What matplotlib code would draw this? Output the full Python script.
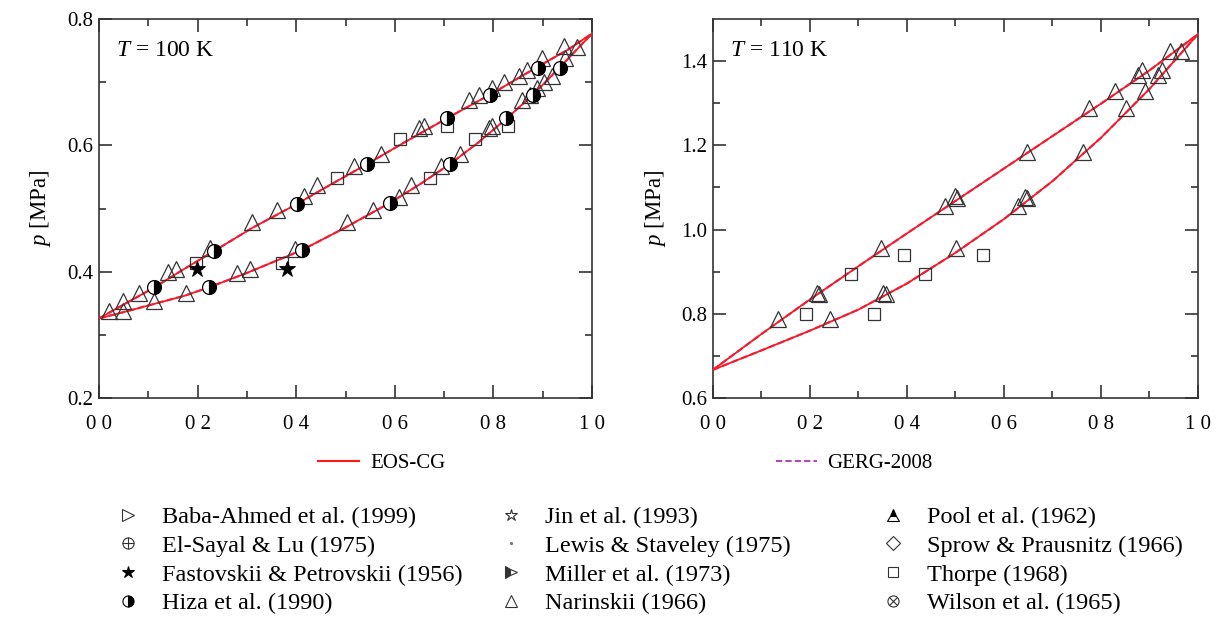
import matplotlib
matplotlib.use("Agg")
import matplotlib.pyplot as plt
from matplotlib.lines import Line2D
from matplotlib.legend_handler import HandlerTuple

plt.rcParams['font.family'] = ['Liberation Serif', 'DejaVu Serif']
plt.rcParams['mathtext.fontset'] = 'custom'
plt.rcParams['mathtext.rm'] = 'Liberation Serif'
plt.rcParams['mathtext.it'] = 'Liberation Serif:italic'
plt.rcParams['font.size'] = 15

# ---- T = 100 K (left) ----
x100_liq = [0.0, 0.05, 0.112, 0.17, 0.234, 0.31, 0.401, 0.47, 0.543, 0.62, 0.706, 0.797, 0.891, 0.95, 1.0]
p100_liq = [0.326, 0.348, 0.375, 0.403, 0.433, 0.469, 0.507, 0.538, 0.570, 0.605, 0.643, 0.682, 0.725, 0.751, 0.777]
x100_vap = [0.0, 0.05, 0.112, 0.174, 0.222, 0.30, 0.411, 0.50, 0.59, 0.65, 0.711, 0.77, 0.826, 0.88, 0.934, 1.0]
p100_vap = [0.326, 0.336, 0.349, 0.362, 0.375, 0.398, 0.434, 0.470, 0.509, 0.538, 0.570, 0.605, 0.642, 0.680, 0.723, 0.777]

nar100_x = [0.020, 0.049, 0.081, 0.140, 0.157, 0.225, 0.311, 0.361, 0.416, 0.443, 0.517, 0.571,
            0.649, 0.659, 0.750, 0.770, 0.797, 0.821, 0.851, 0.868, 0.899, 0.943,
            0.049, 0.111, 0.176, 0.280, 0.306, 0.397, 0.502, 0.556, 0.608, 0.632, 0.693, 0.732,
            0.791, 0.797, 0.858, 0.875, 0.889, 0.902, 0.919, 0.946, 0.970]
nar100_p = [0.337, 0.353, 0.366, 0.399, 0.404, 0.437, 0.478, 0.497, 0.520, 0.538, 0.568, 0.587,
            0.627, 0.631, 0.672, 0.680, 0.690, 0.701, 0.710, 0.720, 0.738, 0.758,
            0.337, 0.353, 0.366, 0.398, 0.404, 0.436, 0.478, 0.498, 0.519, 0.538, 0.568, 0.587,
            0.627, 0.631, 0.672, 0.680, 0.690, 0.701, 0.710, 0.738, 0.756]
hiza100_x = [0.112, 0.234, 0.401, 0.543, 0.706, 0.793, 0.891, 0.222, 0.411, 0.590, 0.711, 0.826, 0.880, 0.934]
hiza100_p = [0.375, 0.433, 0.507, 0.570, 0.643, 0.680, 0.723, 0.375, 0.434, 0.509, 0.570, 0.643, 0.680, 0.723]
thorpe100_x = [0.196, 0.372, 0.483, 0.610, 0.706, 0.671, 0.763, 0.829]
thorpe100_p = [0.414, 0.414, 0.548, 0.610, 0.631, 0.548, 0.610, 0.631]
fast100_x = [0.199, 0.382]
fast100_p = [0.405, 0.405]

# ---- T = 110 K (right) ----
x110 = [0.0, 0.1, 0.2, 0.3, 0.4, 0.5, 0.6, 0.7, 0.8, 0.9, 1.0]
p110_liq = [0.667, 0.752, 0.834, 0.913, 0.991, 1.068, 1.145, 1.222, 1.299, 1.378, 1.464]
p110_vap = [0.667, 0.713, 0.760, 0.810, 0.872, 0.945, 1.025, 1.115, 1.218, 1.334, 1.464]

nar110_x = [0.135, 0.214, 0.219, 0.346, 0.478, 0.499, 0.504, 0.647, 0.775, 0.828, 0.876, 0.885, 0.942,
            0.242, 0.351, 0.356, 0.502, 0.629, 0.643, 0.648, 0.762, 0.851, 0.890, 0.918, 0.925, 0.964]
nar110_p = [0.787, 0.849, 0.846, 0.956, 1.056, 1.080, 1.075, 1.185, 1.288, 1.330, 1.367, 1.378, 1.423,
            0.787, 0.849, 0.846, 0.956, 1.056, 1.078, 1.075, 1.185, 1.288, 1.330, 1.367, 1.378, 1.423]
thorpe110_x = [0.192, 0.331, 0.284, 0.437, 0.393, 0.557]
thorpe110_p = [0.800, 0.800, 0.895, 0.895, 0.940, 0.940]

xtick_vals = [0.0, 0.2, 0.4, 0.6, 0.8, 1.0]
xtick_text = ['0 0', '0 2', '0 4', '0 6', '0 8', '1 0']

RED = '#ff1a1a'
PURPLE = '#b048c0'
EDGE = '#333333'

fig = plt.figure(figsize=(12.32, 6.19), dpi=100)
axL = fig.add_axes([0.0804, 0.357, 0.4002, 0.6123])
axR = fig.add_axes([0.5787, 0.357, 0.3937, 0.6123])

tri = dict(marker='^', ls='none', ms=12, mfc='none', mec=EDGE, mew=0.9)
sq = dict(marker='s', ls='none', ms=9, mfc='none', mec=EDGE, mew=0.9)
hz = dict(marker='o', ls='none', ms=10, fillstyle='right', mfc='black', mfcalt='white', mec='black', mew=0.9)
st = dict(marker='*', ls='none', ms=12, mfc='black', mec='black', mew=0.6)


def curves(ax, xl, pl, xv, pv):
    ax.plot(xl, pl, color=PURPLE, ls=(0, (3, 1.5)), lw=1.6, zorder=2)
    ax.plot(xv, pv, color=PURPLE, ls=(0, (3, 1.5)), lw=1.6, zorder=2)
    ax.plot(xl, pl, color=RED, lw=1.3, zorder=3)
    ax.plot(xv, pv, color=RED, lw=1.3, zorder=3)


curves(axL, x100_liq, p100_liq, x100_vap, p100_vap)
axL.plot(nar100_x, nar100_p, **tri, zorder=4)
axL.plot(thorpe100_x, thorpe100_p, **sq, zorder=4)
axL.plot(fast100_x, fast100_p, **st, zorder=5)
axL.plot(hiza100_x, hiza100_p, **hz, zorder=5)

curves(axR, x110, p110_liq, x110, p110_vap)
axR.plot(nar110_x, nar110_p, **tri, zorder=4)
axR.plot(thorpe110_x, thorpe110_p, **sq, zorder=4)

for ax, ylim, yt, ymin, lab in [
        (axL, (0.2, 0.8), [0.2, 0.4, 0.6, 0.8], [0.3, 0.5, 0.7], '$T$ = 100 K'),
        (axR, (0.6, 1.5), [0.6, 0.8, 1.0, 1.2, 1.4], [0.7, 0.9, 1.1, 1.3], '$T$ = 110 K')]:
    ax.set_xlim(0, 1)
    ax.set_ylim(*ylim)
    ax.set_xticks(xtick_vals)
    ax.set_xticklabels(xtick_text)
    ax.set_xticks([0.1, 0.3, 0.5, 0.7, 0.9], minor=True)
    ax.set_yticks(yt)
    ax.set_yticklabels(['%.1f' % v for v in yt])
    ax.set_yticks(ymin, minor=True)
    ax.tick_params(which='both', direction='in', top=True, right=True, color=EDGE, width=1.2)
    ax.tick_params(which='major', length=9.5, labelsize=15)
    ax.tick_params(which='minor', length=5)
    ax.tick_params(axis='x', which='major', pad=12)
    ax.tick_params(axis='y', which='major', pad=4)
    for s in ax.spines.values():
        s.set_linewidth(1.2)
        s.set_color(EDGE)
    ax.set_ylabel('$p$ [MPa]', fontsize=16.5)
    ax.text(0.035, 0.918, lab, transform=ax.transAxes, fontsize=17, va='center')

axL.yaxis.set_label_coords(-0.094, 0.5)
axR.yaxis.set_label_coords(-0.092, 0.5)

# line legends
h_eos = Line2D([], [], color=RED, lw=1.5)
h_gerg = Line2D([], [], color=PURPLE, ls=(0, (3, 1.5)), lw=1.5)
fig.legend([h_eos], ['EOS-CG'], loc='center', bbox_to_anchor=(0.31, 0.252), frameon=False,
           handlelength=2.0, handletextpad=0.55, fontsize=15)
fig.legend([h_gerg], ['GERG-2008'], loc='center', bbox_to_anchor=(0.693, 0.252), frameon=False,
           handlelength=2.0, handletextpad=0.45, fontsize=15)

# marker legend
def mk(**kw):
    base = dict(ls='none', mec=EDGE, mfc='none', mew=0.8, ms=8)
    base.update(kw)
    return Line2D([], [], **base)

cols = [
    [(mk(marker='>'), 'Baba-Ahmed et al. (1999)'),
     ((mk(marker='o'), mk(marker='+', ms=8)), 'El-Sayal & Lu (1975)'),
     (mk(marker='*', mfc='black', mec='black', ms=9), 'Fastovskii & Petrovskii (1956)'),
     (mk(marker='o', fillstyle='right', mfc='black', mfcalt='white', mec='black'), 'Hiza et al. (1990)')],
    [(mk(marker='*', ms=9), 'Jin et al. (1993)'),
     (mk(marker='.', ms=3, mfc='#777777', mec='#777777'), 'Lewis & Staveley (1975)'),
     (mk(marker='>', fillstyle='left', mfc=EDGE, mfcalt='white'), 'Miller et al. (1973)'),
     (mk(marker='^'), 'Narinskii (1966)')],
    [(mk(marker='^', fillstyle='top', mfc='black', mfcalt='white', mec='black'), 'Pool et al. (1962)'),
     (mk(marker='D', ms=7), 'Sprow & Prausnitz (1966)'),
     (mk(marker='s', ms=7), 'Thorpe (1968)'),
     ((mk(marker='o'), mk(marker='x', ms=6)), 'Wilson et al. (1965)')],
]
col_x = [0.0842, 0.3948, 0.7051]
for cx, items in zip(col_x, cols):
    fig.legend([h for h, _ in items], [t for _, t in items], loc='upper left',
               bbox_to_anchor=(cx, 0.1825), frameon=False, handlelength=2.0,
               handletextpad=0.4, labelspacing=0.28, borderaxespad=0, borderpad=0,
               fontsize=17.5, handler_map={tuple: HandlerTuple(ndivide=1)})

fig.savefig('out.png', dpi=100)
